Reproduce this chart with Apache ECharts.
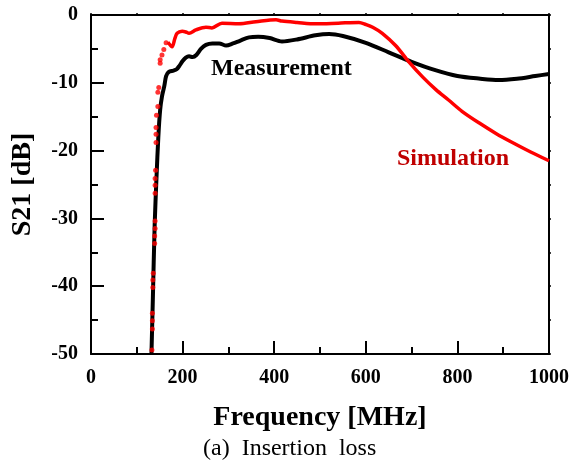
<!DOCTYPE html>
<html><head><meta charset="utf-8">
<script src="https://cdn.jsdelivr.net/npm/echarts@6/dist/echarts.min.js"></script>
<style>html,body{margin:0;padding:0;background:#fff}#c{width:573px;height:468px}</style>
</head><body><div id="c"></div>
<script>
// Measurement (black), [MHz, dB]
const measurement = [[132,-50],[135,-42],[139,-31],[143,-24],[147,-18],[151,-14],[155,-12],[160,-10.5],[164,-9],[170,-8.4],[180,-8.2],[187,-8],[193,-7.5],[200,-6.8],[207,-6.3],[214,-6.1],[222,-6.2],[230,-5.9],[240,-5],[251,-4.4],[265,-4.2],[280,-4.2],[295,-4.5],[310,-4.2],[325,-3.8],[345,-3.3],[365,-3.2],[390,-3.4],[417,-3.9],[450,-3.6],[490,-3],[520,-2.8],[550,-3.1],[600,-4.1],[650,-5.5],[700,-6.9],[750,-8.1],[800,-9],[850,-9.4],[890,-9.6],[930,-9.4],[970,-9],[1000,-8.7]];
// Simulation dots on the steep edge
const simulationDots = [[133,-49.4],[134,-46.3],[134,-45.1],[134,-44],[135,-40.2],[135,-39.1],[136,-38.1],[139,-33.7],[139,-32.6],[140,-31.5],[140,-30.4],[140,-26.3],[140,-25.1],[140,-24.1],[141,-22.9],[142,-18.8],[142,-17.6],[142,-16.6],[143,-14.8],[146,-13.5],[146,-11.4],[148,-10.7],[151,-7.1],[151,-6.6],[155,-5.9],[159,-5.1],[164,-4.1]];
// Simulation line
const simulationLine = [[168,-4],[177,-4.7],[183,-3.5],[188,-2.7],[199,-2.4],[207,-2.5],[214,-2.7],[229,-2.2],[251,-1.8],[264,-1.9],[286,-1.2],[323,-1.3],[360,-1.0],[404,-0.7],[417,-0.9],[450,-1.1],[491,-1.3],[540,-1.2],[585,-1.1],[600,-1.4],[615,-1.8],[636,-2.7],[665,-4.5],[694,-6.9],[725,-9.2],[753,-11],[780,-12.5],[810,-14.2],[847,-15.9],[885,-17.5],[920,-18.8],[960,-20.2],[1000,-21.5]];
const xTicks = {min:0, max:1000, interval:200};
const yTicks = {min:-50, max:0, interval:10};

const serif = '"Liberation Serif","Times New Roman",serif';
const chart = echarts.init(document.getElementById('c'), null, {renderer:'canvas'});
const axisLine = {show:true, onZero:false, lineStyle:{color:'#000', width:2}};
const tick = {show:true, inside:true, length:13, lineStyle:{color:'#000', width:2}};
const minor = {show:true, splitNumber:2, length:7, lineStyle:{color:'#000', width:2}};
const tickOut = {show:true, inside:false, length:2, lineStyle:{color:'#000', width:1.5}};
const minorOut = {show:true, splitNumber:2, length:2, lineStyle:{color:'#000', width:1.5}};
chart.setOption({
  animation:false,
  grid:{left:91, right:24, top:15, bottom:114},
  xAxis:[{type:'value', min:xTicks.min, max:xTicks.max, interval:xTicks.interval,
    axisLine, axisTick:tick, minorTick:minor, splitLine:{show:false},
    axisLabel:{color:'#000', fontSize:20, fontWeight:'bold', fontFamily:serif, margin:14, formatter:v=>String(v)},
    name:'Frequency [MHz]', nameLocation:'middle', nameGap:50,
    nameTextStyle:{color:'#000', fontSize:28, fontWeight:'bold', fontFamily:serif}},
    {type:'value', position:'top', min:xTicks.min, max:xTicks.max, interval:xTicks.interval,
    axisLine, axisTick:tickOut, minorTick:minorOut, splitLine:{show:false}, axisLabel:{show:false}}],
  yAxis:[{type:'value', min:yTicks.min, max:yTicks.max, interval:yTicks.interval,
    axisLine, axisTick:tick, minorTick:minor, splitLine:{show:false},
    axisLabel:{color:'#000', fontSize:20, fontWeight:'bold', fontFamily:serif, margin:13, formatter:v=>String(v)},
    name:'S21 [dB]', nameLocation:'middle', nameGap:54,
    nameTextStyle:{color:'#000', fontSize:28, fontWeight:'bold', fontFamily:serif}},
    {type:'value', position:'right', min:yTicks.min, max:yTicks.max, interval:yTicks.interval,
    axisLine, axisTick:tickOut, minorTick:minorOut, splitLine:{show:false}, axisLabel:{show:false}}],
  series:[
    {type:'line', name:'Measurement', data:measurement, showSymbol:false, smooth:0.3,
      lineStyle:{color:'#000', width:4}, z:2},
    {type:'line', name:'Simulation', data:simulationLine, showSymbol:false, smooth:0.3,
      lineStyle:{color:'#ff0000', width:3.5}, z:3},
    {type:'scatter', name:'Simulation', data:simulationDots, symbol:'circle', symbolSize:5,
      itemStyle:{color:'#ff0000'}, z:4}
  ],
  graphic:[
    {type:'text', left:211, top:57, style:{text:'Measurement', fill:'#000', font:'bold 24px '+serif}},
    {type:'text', left:397, top:147, style:{text:'Simulation', fill:'#c00000', font:'bold 24px '+serif}},
    {type:'text', left:203, top:437, style:{text:'(a)  Insertion  loss', fill:'#000', font:'24px '+serif}}
  ]
});
</script></body></html>
